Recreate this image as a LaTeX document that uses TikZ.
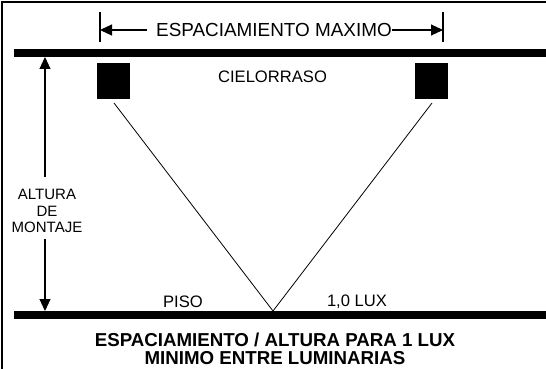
\documentclass[tikz,border=0pt]{standalone}
\usepackage{fontspec}
\setmainfont{Liberation Sans}
\usetikzlibrary{arrows.meta}
\begin{document}
\begin{tikzpicture}[x=1pt,y=-1pt,
  bar/.style={fill=black,draw=none},
  lum/.style={fill=black,draw=none,minimum width=33pt,minimum height=36pt,inner sep=0pt},
  ray/.style={draw=black,line width=0.8pt},
  dim/.style={draw=black,line width=1.1pt,-{Triangle[length=12pt,width=11pt]}},
  tick/.style={draw=black,line width=1.1pt},
  lbl/.style={inner sep=0pt,font=\fontsize{16.6pt}{18pt}\selectfont},
  biglbl/.style={inner sep=0pt,font=\fontsize{18.9pt}{20pt}\selectfont},
  sidelbl/.style={inner sep=0pt,align=center,font=\fontsize{15pt}{16.7pt}\selectfont},
  caption/.style={inner sep=0pt,align=center,font=\bfseries\fontsize{18.7pt}{18pt}\selectfont}]
\useasboundingbox (0,0) rectangle (546,369);
% frame (top and left only)
\draw[line width=2pt] (2,369) -- (2,2) -- (546,2);
% ceiling and floor
\fill[bar] (14,49) rectangle (546,57);
\fill[bar] (14,311) rectangle (546,319);
\coordinate (ceil) at (45,57);
\coordinate (floor) at (45,311);
% luminaires
\node[lum] (L1) at (113.5,81) {};
\node[lum] (L2) at (431.5,81) {};
\coordinate (apex) at (273,311);
\coordinate (r1) at (114,103);
\coordinate (r2) at (432,103);
\draw[ray] (r1) -- (apex) -- (r2);
% labels
\node[lbl] (ciel) at (272.5,77) {CIELORRASO};
\node[lbl] (piso) at (183,302) {PISO};
\node[lbl] (lux) at (357,302) {1,0 LUX};
% top dimension
\coordinate (t1a) at (100,12);
\coordinate (t1b) at (100,42);
\coordinate (t2a) at (443,12);
\coordinate (t2b) at (443,42);
\draw[tick] (t1a) -- (t1b);
\draw[tick] (t2a) -- (t2b);
\node[biglbl,anchor=west] (esp) at (156,30) {ESPACIAMIENTO MAXIMO};
\coordinate (d1) at (100,30);
\coordinate (d2) at (443,30);
\draw[dim] (147,30) -- (d1);
\draw[dim] (esp.east) -- (d2);
% side dimension
\node[sidelbl] (alt) at (47,211) {ALTURA\\DE\\MONTAJE};
\draw[dim] (45,177) -- (ceil);
\draw[dim] (45,239) -- (floor);
% caption
\node[caption] (cap) at (275,349) {ESPACIAMIENTO / ALTURA PARA 1 LUX\\MINIMO ENTRE LUMINARIAS};
\end{tikzpicture}
\end{document}
